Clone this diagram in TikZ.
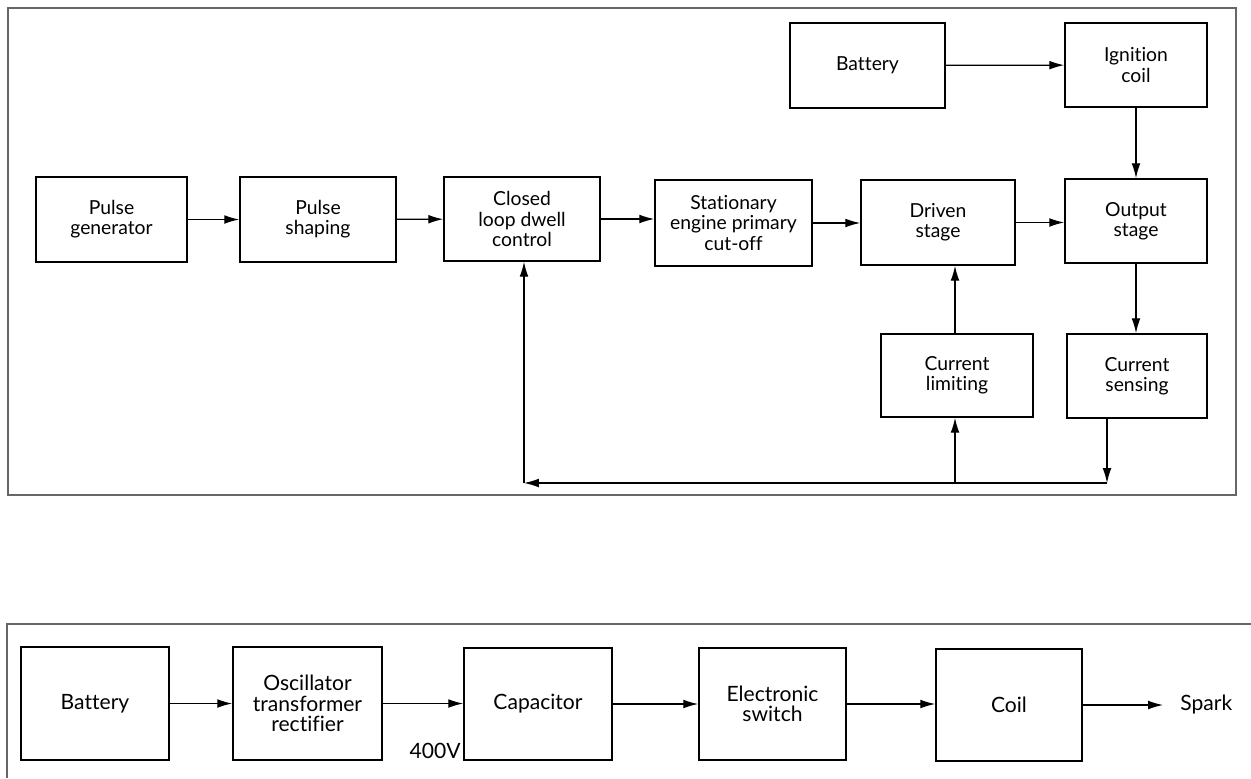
\documentclass[tikz,border=0pt]{standalone}
\usepackage{fontspec}
\setmainfont{Lato}[Ligatures=NoCommon]
\usetikzlibrary{arrows.meta}

\begin{document}
\begin{tikzpicture}[x=0.02cm, y=-0.02cm, font=\fontsize{11}{11.5}\selectfont,
    blk/.style={draw, line width=0.9pt, align=center, inner sep=0pt},
    arr/.style={-{Latex[length=8.5pt,width=5pt]}, line width=0.7pt},
    frm/.style={draw=black!60, line width=0.6pt},
    big/.style={font=\fontsize{12}{11.5}\selectfont}]
  \useasboundingbox (0,0) rectangle (1251,778);
  \draw[frm] (8,8) rectangle (1236,495);
  \draw[frm] (1251,624) -- (7,624) -- (7,778);

  \node[blk, minimum width=3.02cm, minimum height=1.70cm] (pgen) at (111.5,219.5) {Pulse\\generator};
  \node[blk, minimum width=3.12cm, minimum height=1.70cm] (pshape) at (318,219.5) {Pulse\\shaping};
  \node[blk, minimum width=3.12cm, minimum height=1.68cm] (dwell) at (522,219) {Closed\\loop dwell\\control};
  \node[blk, minimum width=3.14cm, minimum height=1.72cm] (cutoff) at (733.5,223) {Stationary\\engine primary\\cut-off};
  \node[blk, minimum width=3.10cm, minimum height=1.70cm] (batt) at (867.5,65.5) {Battery};
  \node[blk, minimum width=2.84cm, minimum height=1.68cm] (igncoil) at (1136,65) {Ignition\\coil};
  \node[blk, minimum width=3.08cm, minimum height=1.70cm] (driven) at (938,222.5) {Driven\\stage};
  \node[blk, minimum width=2.84cm, minimum height=1.68cm] (output) at (1136,221) {Output\\stage};
  \node[blk, minimum width=3.04cm, minimum height=1.66cm] (limit) at (957,375.5) {Current\\limiting};
  \node[blk, minimum width=2.80cm, minimum height=1.68cm] (sense) at (1137,376) {Current\\sensing};
  \coordinate (fbR) at (1107,483);
  \coordinate (fbM) at (955,483);
  \coordinate (fbL) at (524,483);

  \draw[arr] (pgen) -- (pshape);
  \draw[arr] (pshape) -- (dwell);
  \draw[arr] (dwell.east) -- (dwell.east -| cutoff.west);
  \draw[arr] (cutoff.east) -- (cutoff.east -| driven.west);
  \draw[arr] (driven.east) -- (driven.east -| output.west);
  \draw[arr] (batt) -- (igncoil);
  \draw[arr] (igncoil) -- (output);
  \draw[arr] (output.south) -- (output.south |- sense.north);
  \draw[arr] (sense.south -| fbR) -- (fbR);
  \draw[arr] (fbR) -- (fbL);
  \draw[arr] (fbL) -- (fbL |- dwell.south);
  \draw[arr] (fbM) -- (fbM |- limit.south);
  \draw[arr] (limit.north -| fbM) -- (fbM |- driven.south);

  \node[blk, big, minimum width=2.96cm, minimum height=2.26cm] (batt2) at (95,703.5) {Battery};
  \node[blk, big, minimum width=2.98cm, minimum height=2.26cm] (osc) at (307.5,703.5) {Oscillator\\transformer\\rectifier};
  \node[blk, big, minimum width=2.96cm, minimum height=2.24cm] (cap) at (538,704) {Capacitor};
  \node[blk, big, minimum width=2.94cm, minimum height=2.24cm] (eswitch) at (772.5,704) {Electronic\\switch};
  \node[blk, big, minimum width=2.92cm, minimum height=2.24cm] (coil) at (1009,705) {Coil};
  \node[big, anchor=west, inner xsep=9.7pt, inner ysep=0pt] (spark) at (1163,705) {Spark};
  \node[big, anchor=south east, inner sep=0pt] (v400) at (461,759) {400V};

  \draw[arr] (batt2.east) -- (batt2.east -| osc.west);
  \draw[arr] (osc.east) -- (osc.east -| cap.west);
  \draw[arr] (cap.east) -- (cap.east -| eswitch.west);
  \draw[arr] (eswitch.east) -- (eswitch.east -| coil.west);
  \draw[arr] (coil) -- (spark);
\end{tikzpicture}
\end{document}
